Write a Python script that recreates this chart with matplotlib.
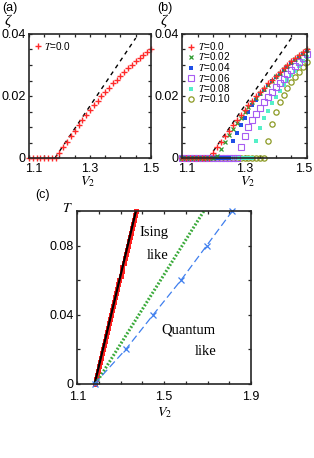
import matplotlib
matplotlib.use('Agg')
import matplotlib.pyplot as plt
from matplotlib.ticker import FixedLocator, NullFormatter, FixedFormatter
from matplotlib.transforms import ScaledTranslation

plt.rcParams['font.family'] = ['Liberation Sans', 'DejaVu Sans']
plt.rcParams['mathtext.fontset'] = 'stix'

# ---------------- data ----------------
V = [1.1, 1.1125, 1.125, 1.1375, 1.15, 1.1625, 1.175, 1.1875, 1.2, 1.2125,
     1.225, 1.2375, 1.25, 1.2625, 1.275, 1.2875, 1.3, 1.3125, 1.325, 1.3375,
     1.35, 1.3625, 1.375, 1.3875, 1.4, 1.4125, 1.425, 1.4375, 1.45, 1.4625,
     1.475, 1.4875, 1.5]

zeta_T000 = [0, 0, 0, 0, 0, 0, 0, 0,
             0.0015, 0.0034, 0.0053, 0.0071, 0.0088, 0.0105, 0.0122, 0.0138,
             0.0154, 0.0170, 0.0185, 0.0199, 0.0213, 0.0227, 0.0241, 0.0253,
             0.0266, 0.0278, 0.0290, 0.0301, 0.0312, 0.0322, 0.0332, 0.0342, 0.0350]
zeta_T002 = [0, 0, 0, 0, 0, 0, 0, 0, 0,
             0.0008, 0.0030, 0.0052, 0.0074, 0.0094, 0.0113, 0.0130, 0.0147,
             0.0164, 0.0180, 0.0195, 0.0209, 0.0224, 0.0237, 0.0250, 0.0263,
             0.0275, 0.0287, 0.0298, 0.0309, 0.0320, 0.0330, 0.0340, 0.0348]
zeta_T004 = [0, 0, 0, 0, 0, 0, 0, 0, 0, 0, 0, 0, 0,
             0.0055, 0.0082, 0.0105, 0.0128, 0.0150, 0.0170, 0.0188, 0.0205,
             0.0220, 0.0234, 0.0247, 0.0260, 0.0272, 0.0284, 0.0295, 0.0306,
             0.0317, 0.0327, 0.0337, 0.0346]
zeta_T006 = [0, 0, 0, 0, 0, 0, 0, 0, 0, 0, 0, 0, 0, 0, 0,
             0.0035, 0.0072, 0.0100, 0.0122, 0.0143, 0.0162, 0.0180, 0.0197,
             0.0213, 0.0228, 0.0242, 0.0256, 0.0270, 0.0283, 0.0296, 0.0309,
             0.0321, 0.0334]
zeta_T008 = [0, 0, 0, 0, 0, 0, 0, 0, 0, 0, 0, 0, 0, 0, 0, 0, 0, 0, 0,
             0.0055, 0.0097, 0.0128, 0.0153, 0.0176, 0.0197, 0.0216, 0.0234,
             0.0251, 0.0267, 0.0282, 0.0297, 0.0312, 0.0326]
zeta_T010 = [0, 0, 0, 0, 0, 0, 0, 0, 0, 0, 0, 0, 0, 0, 0, 0, 0, 0, 0, 0, 0, 0,
             0.0055, 0.0110, 0.0150, 0.0180, 0.0204, 0.0226, 0.0245, 0.0262,
             0.0278, 0.0293, 0.0310]

dash_V = [1.185, 1.45]
dash_zeta = [0.0, 0.0387]

# panel (c)
Tc = [0.0, 0.0025, 0.005, 0.0075, 0.01, 0.0125, 0.015, 0.0175, 0.02, 0.0225,
      0.025, 0.0275, 0.03, 0.0325, 0.035, 0.0375, 0.04, 0.0425, 0.045, 0.0475,
      0.05, 0.0525, 0.055, 0.0575, 0.06, 0.0625, 0.065, 0.0675, 0.07, 0.0725,
      0.075, 0.0775, 0.08, 0.0825, 0.085, 0.0875, 0.09, 0.0925, 0.095, 0.0975, 0.1]
Vc = [1.180, 1.185, 1.190, 1.194, 1.199, 1.204, 1.209, 1.213, 1.218, 1.223,
      1.228, 1.232, 1.237, 1.242, 1.247, 1.251, 1.256, 1.261, 1.266, 1.270,
      1.275, 1.280, 1.285, 1.289, 1.294, 1.299, 1.304, 1.308, 1.313, 1.318,
      1.323, 1.327, 1.332, 1.337, 1.342, 1.346, 1.351, 1.356, 1.361, 1.365, 1.370]
fit_V = [1.18, 1.37]
fit_T = [0.0, 0.1]
ising_V = [1.185, 1.683]
ising_T = [0.0, 0.1]
quant_T = [0.0, 0.02, 0.04, 0.06, 0.08, 0.1]
quant_V = [1.18, 1.324, 1.45, 1.578, 1.696, 1.814]

labels_T = [r'$T$=0.0', r'$T$=0.02', r'$T$=0.04', r'$T$=0.06', r'$T$=0.08', r'$T$=0.10']

# ---------------- figure ----------------
W, H = 314, 458
fig = plt.figure(figsize=(W / 100, H / 100), dpi=100)

def box(l, t, r, b):
    return [l / W, 1 - b / H, (r - l) / W, (b - t) / H]

axa = fig.add_axes(box(29, 34, 151, 158))
axb = fig.add_axes(box(182, 34, 307, 158))
axc = fig.add_axes(box(77.3, 211, 251, 383.7))

TICKFS = 9

def style(ax, xmaj, xmin, ymaj, ymin, xlab, ylab, xpad=3.5):
    for s in ax.spines.values():
        s.set_linewidth(1.2)
        s.set_color('#262626')
    ax.xaxis.set_major_locator(FixedLocator(xmaj))
    ax.xaxis.set_minor_locator(FixedLocator(xmin))
    ax.yaxis.set_major_locator(FixedLocator(ymaj))
    ax.yaxis.set_minor_locator(FixedLocator(ymin))
    ax.xaxis.set_major_formatter(FixedFormatter(xlab))
    ax.yaxis.set_major_formatter(FixedFormatter(ylab))
    ax.xaxis.set_minor_formatter(NullFormatter())
    ax.yaxis.set_minor_formatter(NullFormatter())
    ax.tick_params(which='both', direction='in', top=True, right=True,
                   length=2.5, width=0.9, color='#262626')
    ax.tick_params(axis='y', labelsize=TICKFS, pad=2.5)
    ax.tick_params(axis='x', labelsize=TICKFS, pad=xpad)

xmin_ab = [1.15, 1.2, 1.25, 1.35, 1.4, 1.45]
ymin_ab = [0.005, 0.01, 0.015, 0.025, 0.03, 0.035]

# ---- panel (a)
axa.plot(dash_V, dash_zeta, color='black', lw=1.0, ls=(0, (3, 3)))
ha, = axa.plot(V, zeta_T000, ls='none', marker='+', ms=4.5, mew=1.0,
               color='#ff2a2a', clip_on=False, label=labels_T[0])
axa.set_xlim(1.1, 1.5)
axa.set_ylim(0, 0.04)
style(axa, [1.1, 1.3, 1.5], xmin_ab, [0, 0.02, 0.04], ymin_ab,
      ['1.1', '1.3', '1.5'], ['0', '0.02', '0.04'])
axa.legend(handles=[ha], loc='upper left', frameon=False, fontsize=7.2,
           handlelength=0.6, handletextpad=0.35, borderaxespad=0.15,
           borderpad=0.4)

# ---- panel (b)
axb.plot(dash_V, dash_zeta, color='black', lw=1.0, ls=(0, (3, 3)))
series = [zeta_T000, zeta_T002, zeta_T004, zeta_T006, zeta_T008, zeta_T010]
styles = [dict(marker='+', ms=4.5, mew=1.0, color='#ff2a2a'),
          dict(marker='x', ms=3.5, mew=0.9, color='#2e9a2e'),
          dict(marker='s', ms=3.0, mew=0.0, color='#1f4fe6'),
          dict(marker='s', ms=3.8, mew=0.8, mfc='none', color='#a75cf2'),
          dict(marker='s', ms=3.2, mew=0.0, color='#55f0c8'),
          dict(marker='o', ms=3.8, mew=0.9, mfc='none', color='#8c9a24')]
handles = [None] * 6
for i in range(5, -1, -1):
    h, = axb.plot(V, series[i], ls='none', clip_on=False, label=labels_T[i], **styles[i])
    handles[i] = h
axb.set_xlim(1.1, 1.5)
axb.set_ylim(0, 0.04)
style(axb, [1.1, 1.3, 1.5], xmin_ab, [0, 0.02, 0.04], ymin_ab,
      ['1.1', '1.3', '1.5'], ['0', '0.02', '0.04'])
axb.legend(handles=handles, loc='upper left', frameon=False, fontsize=7.2,
           handlelength=0.6, handletextpad=0.35, borderaxespad=0.15,
           borderpad=0.45, labelspacing=-0.15)

# ---- panel (c)
axc.plot(Vc, Tc, ls='none', marker='s', ms=3.6, mew=0, color='#ff2020', clip_on=False)
axc.plot(fit_V, fit_T, color='black', lw=1.6, solid_capstyle='butt')
axc.plot(ising_V, ising_T, color='#3aaa3a', lw=2.2, ls=(0, (0.6, 0.6)))
axc.plot(quant_V, quant_T, color='#3f7fee', lw=0.9, ls=(0, (6, 3)),
         marker='x', ms=4, mew=0.9, clip_on=False)
axc.set_xlim(1.1, 1.9)
axc.set_ylim(0, 0.1)
style(axc, [1.1, 1.5, 1.9], [1.2, 1.3, 1.4, 1.6, 1.7, 1.8],
      [0, 0.04, 0.08], [0.02, 0.06, 0.1],
      ['1.1', '1.5', '1.9'], ['0', '0.04', '0.08'], xpad=5)

serif = ['Liberation Serif', 'DejaVu Serif']
axc.text(1.453, 0.0877, 'Ising', family=serif, fontsize=10.5, ha='center', va='center')
axc.text(1.47, 0.0743, 'like', family=serif, fontsize=10.5, ha='center', va='center')
axc.text(1.61, 0.031, 'Quantum', family=serif, fontsize=10.5, ha='center', va='center')
axc.text(1.69, 0.0185, 'like', family=serif, fontsize=10.5, ha='center', va='center')

fig.canvas.draw()

def shift(label, dx):
    label.set_transform(label.get_transform() + ScaledTranslation(dx / 100, 0, fig.dpi_scale_trans))

# as in the reference: first x label of (a),(b) sits right of the spine,
# last label of (b) stays inside the figure
shift(axa.get_xticklabels()[0], 5)
shift(axb.get_xticklabels()[0], 5)
shift(axb.get_xticklabels()[-1], -3)

# ---- labels in figure pixel coordinates
def ftext(x, y, s, **kw):
    fig.text(x / W, 1 - y / H, s, **kw)

ftext(2, 8, '(a)', fontsize=9, ha='left', va='center')
ftext(157, 8, '(b)', fontsize=9, ha='left', va='center')
ftext(35, 195, '(c)', fontsize=9, ha='left', va='center')
ftext(8, 21, 'ζ', family=serif, style='italic', fontsize=11, ha='center', va='center')
ftext(164, 21, 'ζ', family=serif, style='italic', fontsize=11, ha='center', va='center')
ftext(88, 182, r'$V_2$', fontsize=10, ha='center', va='center')
ftext(248, 182, r'$V_2$', fontsize=10, ha='center', va='center')
ftext(165, 413, r'$V_2$', fontsize=10, ha='center', va='center')
ftext(67, 208, r'$T$', fontsize=10, ha='center', va='center')

fig.savefig('out.png', dpi=100)
